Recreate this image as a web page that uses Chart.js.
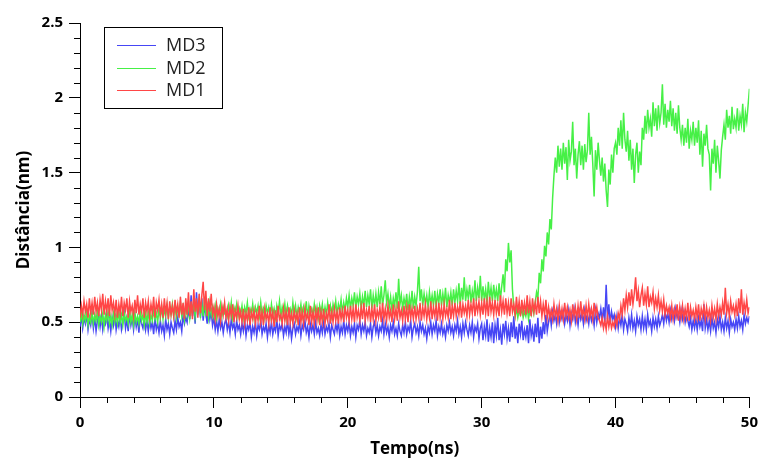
<!DOCTYPE html>
<html>
<head>
<meta charset="utf-8">
<script src="https://cdn.jsdelivr.net/npm/chart.js@4/dist/chart.umd.min.js"></script>
<style>
  html, body { margin: 0; padding: 0; background: #fff; }
  #wrap { width: 764px; height: 461px; position: relative; }
</style>
</head>
<body>
<div id="wrap"><canvas id="c"></canvas></div>
<script>
// Sampling interval of the trajectories (ns)
const passo = 0.1;

const rotulos = ['MD3', 'MD2', 'MD1'];
const cores = ['#4646f5', '#46f046', '#ff4646'];

const ticksX = [0, 10, 20, 30, 40, 50];
const ticksY = [0, 0.5, 1, 1.5, 2, 2.5];

// Distance (nm), one value per 0.1 ns, one row per ns
const md3 = [
0.47,0.54,0.46,0.53,0.49,0.55,0.45,0.52,0.48,0.56,
0.46,0.53,0.44,0.51,0.55,0.47,0.54,0.45,0.52,0.49,
0.55,0.46,0.52,0.44,0.53,0.48,0.56,0.45,0.51,0.47,
0.54,0.45,0.50,0.57,0.46,0.52,0.44,0.55,0.48,0.53,
0.45,0.54,0.47,0.52,0.43,0.55,0.49,0.46,0.53,0.45,
0.51,0.44,0.52,0.46,0.50,0.42,0.53,0.45,0.49,0.43,
0.51,0.44,0.48,0.41,0.52,0.45,0.49,0.42,0.50,0.46,
0.43,0.51,0.45,0.53,0.47,0.50,0.44,0.55,0.49,0.53,
0.50,0.60,0.52,0.68,0.54,0.63,0.49,0.70,0.55,0.64,
0.53,0.66,0.51,0.60,0.56,0.49,0.62,0.52,0.57,0.48,
0.53,0.45,0.51,0.44,0.52,0.46,0.50,0.43,0.49,0.52,
0.45,0.50,0.43,0.52,0.46,0.49,0.42,0.51,0.45,0.48,
0.42,0.49,0.44,0.51,0.41,0.48,0.45,0.50,0.40,0.47,
0.43,0.50,0.41,0.48,0.45,0.51,0.42,0.47,0.44,0.49,
0.40,0.48,0.43,0.50,0.42,0.47,0.44,0.52,0.41,0.48,
0.45,0.49,0.41,0.47,0.43,0.51,0.42,0.48,0.39,0.46,
0.49,0.42,0.47,0.44,0.50,0.41,0.48,0.45,0.51,0.43,
0.47,0.40,0.49,0.44,0.48,0.42,0.50,0.43,0.46,0.41,
0.48,0.43,0.51,0.42,0.47,0.44,0.49,0.40,0.48,0.45,
0.42,0.49,0.44,0.50,0.41,0.47,0.43,0.51,0.42,0.48,
0.44,0.50,0.41,0.47,0.43,0.49,0.40,0.48,0.45,0.51,
0.42,0.48,0.44,0.50,0.41,0.46,0.43,0.49,0.40,0.47,
0.50,0.43,0.48,0.41,0.47,0.44,0.51,0.42,0.49,0.43,
0.47,0.40,0.48,0.44,0.50,0.42,0.46,0.41,0.49,0.44,
0.41,0.48,0.43,0.50,0.42,0.47,0.44,0.51,0.40,0.46,
0.49,0.43,0.47,0.41,0.50,0.44,0.48,0.42,0.46,0.39,
0.47,0.43,0.50,0.42,0.48,0.44,0.51,0.41,0.47,0.43,
0.49,0.42,0.46,0.40,0.48,0.44,0.50,0.43,0.47,0.41,
0.48,0.44,0.51,0.42,0.47,0.40,0.49,0.43,0.50,0.45,
0.41,0.48,0.43,0.50,0.40,0.47,0.44,0.49,0.39,0.46,
0.49,0.38,0.47,0.41,0.52,0.37,0.46,0.40,0.50,0.36,
0.48,0.41,0.53,0.38,0.45,0.35,0.49,0.42,0.51,0.39,
0.46,0.37,0.50,0.40,0.54,0.39,0.47,0.36,0.49,0.42,
0.51,0.38,0.45,0.40,0.48,0.36,0.52,0.41,0.46,0.37,
0.49,0.40,0.53,0.36,0.47,0.39,0.50,0.42,0.55,0.44,
0.50,0.56,0.48,0.57,0.51,0.55,0.49,0.58,0.50,0.56,
0.52,0.57,0.49,0.55,0.51,0.58,0.48,0.56,0.52,0.59,
0.50,0.55,0.48,0.57,0.52,0.56,0.49,0.58,0.51,0.55,
0.49,0.57,0.51,0.55,0.48,0.58,0.50,0.56,0.53,0.59,
0.51,0.60,0.50,0.75,0.52,0.62,0.49,0.57,0.52,0.55,
0.47,0.54,0.46,0.53,0.48,0.55,0.45,0.52,0.49,0.44,
0.53,0.47,0.55,0.46,0.51,0.44,0.54,0.48,0.52,0.45,
0.54,0.46,0.52,0.45,0.55,0.48,0.51,0.44,0.53,0.47,
0.52,0.46,0.54,0.48,0.51,0.55,0.49,0.57,0.51,0.56,
0.50,0.58,0.52,0.57,0.51,0.59,0.53,0.56,0.50,0.58,
0.52,0.57,0.50,0.55,0.51,0.47,0.53,0.45,0.51,0.46,
0.52,0.45,0.53,0.47,0.51,0.44,0.62,0.46,0.52,0.45,
0.51,0.44,0.53,0.46,0.50,0.43,0.52,0.47,0.54,0.45,
0.50,0.44,0.53,0.46,0.51,0.43,0.52,0.47,0.50,0.45,
0.52,0.46,0.54,0.47,0.51,0.45,0.55,0.49,0.53,0.50,
0.54
];

const md2 = [
0.50,0.56,0.49,0.55,0.51,0.57,0.48,0.54,0.50,0.56,
0.49,0.55,0.51,0.57,0.48,0.54,0.50,0.56,0.47,0.55,
0.51,0.57,0.49,0.54,0.48,0.56,0.50,0.55,0.49,0.57,
0.50,0.55,0.48,0.56,0.51,0.54,0.49,0.57,0.50,0.55,
0.48,0.56,0.50,0.54,0.49,0.57,0.51,0.55,0.48,0.56,
0.50,0.57,0.49,0.55,0.51,0.58,0.52,0.56,0.50,0.59,
0.53,0.60,0.52,0.59,0.54,0.61,0.53,0.60,0.55,0.62,
0.54,0.61,0.53,0.60,0.55,0.63,0.54,0.60,0.52,0.62,
0.55,0.63,0.53,0.61,0.56,0.64,0.54,0.62,0.57,0.65,
0.55,0.62,0.54,0.66,0.56,0.61,0.53,0.63,0.55,0.60,
0.54,0.61,0.53,0.59,0.55,0.62,0.54,0.60,0.56,0.58,
0.54,0.61,0.55,0.63,0.53,0.60,0.56,0.62,0.54,0.59,
0.55,0.61,0.53,0.60,0.56,0.63,0.54,0.59,0.55,0.62,
0.53,0.60,0.56,0.61,0.54,0.63,0.55,0.59,0.53,0.61,
0.56,0.60,0.54,0.62,0.55,0.59,0.53,0.61,0.56,0.64,
0.54,0.60,0.55,0.62,0.53,0.61,0.56,0.59,0.54,0.63,
0.55,0.61,0.53,0.60,0.56,0.62,0.54,0.60,0.55,0.64,
0.53,0.61,0.56,0.59,0.54,0.62,0.55,0.60,0.53,0.61,
0.56,0.62,0.54,0.60,0.55,0.63,0.56,0.61,0.54,0.62,
0.57,0.64,0.55,0.62,0.58,0.65,0.56,0.63,0.58,0.66,
0.60,0.68,0.59,0.66,0.61,0.70,0.60,0.67,0.62,0.69,
0.59,0.67,0.61,0.71,0.60,0.68,0.62,0.72,0.59,0.68,
0.61,0.69,0.60,0.70,0.62,0.74,0.61,0.68,0.78,0.63,
0.69,0.60,0.67,0.58,0.66,0.61,0.70,0.59,0.79,0.62,
0.68,0.59,0.66,0.61,0.69,0.58,0.67,0.60,0.71,0.59,
0.67,0.61,0.70,0.87,0.64,0.72,0.61,0.69,0.62,0.68,
0.60,0.70,0.62,0.68,0.61,0.71,0.60,0.69,0.63,0.72,
0.61,0.69,0.62,0.73,0.60,0.68,0.63,0.70,0.61,0.72,
0.63,0.71,0.64,0.76,0.62,0.73,0.65,0.80,0.64,0.72,
0.66,0.75,0.63,0.71,0.65,0.78,0.64,0.73,0.66,0.81,
0.64,0.74,0.65,0.72,0.63,0.77,0.66,0.73,0.64,0.75,
0.66,0.72,0.64,0.76,0.65,0.74,0.82,0.70,0.92,0.84,
1.03,0.90,0.98,0.72,0.60,0.54,0.59,0.53,0.58,0.55,
0.59,0.53,0.57,0.54,0.60,0.52,0.58,0.55,0.61,0.56,
0.63,0.70,0.66,0.83,0.76,0.92,0.84,1.01,0.94,1.10,
1.02,1.19,1.12,1.33,1.48,1.60,1.50,1.68,1.54,1.66,
1.52,1.70,1.56,1.67,1.45,1.72,1.58,1.64,1.84,1.55,
1.66,1.46,1.62,1.71,1.55,1.68,1.52,1.69,1.57,1.65,
1.90,1.62,1.74,1.56,1.34,1.65,1.52,1.70,1.58,1.48,
1.60,1.44,1.56,1.38,1.27,1.52,1.42,1.62,1.50,1.66,
1.70,1.62,1.80,1.68,1.85,1.66,1.90,1.72,1.64,1.78,
1.58,1.72,1.52,1.66,1.43,1.62,1.70,1.50,1.64,1.55,
1.80,1.72,1.88,1.76,1.92,1.80,1.86,1.74,1.97,1.81,
1.93,1.78,1.95,1.83,1.90,2.09,1.82,1.96,1.80,1.92,
1.84,1.98,1.81,1.93,1.78,1.90,1.76,1.95,1.80,1.72,
1.82,1.68,1.80,1.70,1.86,1.66,1.78,1.72,1.84,1.68,
1.80,1.70,1.85,1.62,1.78,1.54,1.76,1.68,1.82,1.66,
1.62,1.38,1.66,1.56,1.72,1.50,1.68,1.58,1.46,1.65,
1.74,1.82,1.72,1.92,1.80,1.88,1.76,1.94,1.79,1.86,
1.80,1.93,1.78,1.88,1.82,1.96,1.77,1.90,1.84,1.95,
2.06
];

const md1 = [
0.53,0.61,0.55,0.64,0.57,0.62,0.53,0.66,0.56,0.63,
0.55,0.67,0.57,0.63,0.54,0.65,0.58,0.69,0.55,0.64,
0.57,0.66,0.54,0.68,0.58,0.63,0.55,0.65,0.53,0.62,
0.56,0.67,0.54,0.63,0.58,0.66,0.53,0.64,0.57,0.61,
0.54,0.65,0.56,0.68,0.55,0.62,0.57,0.66,0.53,0.63,
0.57,0.64,0.54,0.62,0.56,0.67,0.53,0.63,0.58,0.65,
0.55,0.62,0.53,0.66,0.56,0.63,0.52,0.64,0.55,0.61,
0.54,0.65,0.56,0.62,0.53,0.67,0.55,0.63,0.52,0.66,
0.55,0.70,0.54,0.64,0.52,0.72,0.57,0.66,0.53,0.69,
0.56,0.68,0.77,0.58,0.71,0.54,0.66,0.57,0.69,0.55,
0.60,0.52,0.62,0.54,0.59,0.51,0.61,0.55,0.63,0.53,
0.59,0.51,0.60,0.54,0.62,0.50,0.58,0.53,0.61,0.52,
0.57,0.50,0.59,0.49,0.56,0.51,0.60,0.48,0.57,0.52,
0.58,0.49,0.56,0.51,0.61,0.50,0.57,0.48,0.59,0.52,
0.56,0.49,0.60,0.51,0.57,0.47,0.58,0.50,0.61,0.52,
0.55,0.49,0.59,0.51,0.57,0.48,0.60,0.50,0.56,0.49,
0.58,0.51,0.56,0.48,0.60,0.50,0.57,0.49,0.59,0.52,
0.56,0.48,0.61,0.50,0.57,0.49,0.58,0.51,0.60,0.48,
0.57,0.50,0.59,0.49,0.56,0.51,0.62,0.49,0.57,0.50,
0.59,0.51,0.57,0.49,0.60,0.52,0.58,0.50,0.61,0.53,
0.58,0.51,0.61,0.52,0.59,0.50,0.62,0.53,0.58,0.51,
0.60,0.52,0.63,0.51,0.58,0.53,0.61,0.50,0.59,0.52,
0.62,0.51,0.58,0.53,0.60,0.50,0.63,0.52,0.59,0.51,
0.61,0.53,0.58,0.50,0.62,0.52,0.59,0.51,0.64,0.53,
0.58,0.51,0.61,0.52,0.60,0.50,0.62,0.53,0.59,0.52,
0.61,0.52,0.59,0.53,0.63,0.51,0.60,0.54,0.62,0.52,
0.59,0.53,0.64,0.52,0.60,0.54,0.61,0.51,0.63,0.53,
0.60,0.52,0.62,0.54,0.59,0.53,0.65,0.52,0.61,0.54,
0.63,0.54,0.60,0.55,0.64,0.53,0.62,0.56,0.61,0.54,
0.65,0.55,0.62,0.56,0.66,0.54,0.63,0.57,0.64,0.55,
0.63,0.55,0.66,0.56,0.64,0.54,0.67,0.57,0.63,0.55,
0.65,0.56,0.62,0.54,0.68,0.57,0.64,0.55,0.66,0.56,
0.63,0.54,0.66,0.57,0.62,0.55,0.67,0.56,0.64,0.54,
0.65,0.57,0.63,0.55,0.68,0.56,0.64,0.54,0.66,0.57,
0.63,0.55,0.67,0.56,0.64,0.54,0.62,0.55,0.65,0.53,
0.60,0.53,0.58,0.52,0.62,0.54,0.59,0.51,0.61,0.53,
0.59,0.52,0.63,0.54,0.60,0.53,0.58,0.51,0.62,0.54,
0.60,0.52,0.61,0.53,0.64,0.54,0.59,0.52,0.61,0.53,
0.62,0.54,0.59,0.52,0.63,0.55,0.60,0.53,0.51,0.48,
0.53,0.46,0.51,0.45,0.54,0.47,0.52,0.46,0.50,0.47,
0.53,0.48,0.56,0.52,0.61,0.55,0.66,0.58,0.68,0.60,
0.70,0.61,0.72,0.62,0.69,0.80,0.64,0.71,0.60,0.68,
0.73,0.61,0.69,0.62,0.74,0.60,0.67,0.63,0.70,0.59,
0.66,0.60,0.68,0.58,0.64,0.57,0.65,0.55,0.61,0.56,
0.60,0.53,0.61,0.52,0.59,0.54,0.62,0.51,0.60,0.53,
0.61,0.52,0.59,0.53,0.63,0.51,0.60,0.54,0.58,0.52,
0.60,0.53,0.62,0.51,0.59,0.54,0.61,0.52,0.60,0.53,
0.58,0.51,0.61,0.53,0.59,0.52,0.62,0.54,0.60,0.55,
0.63,0.55,0.73,0.56,0.62,0.54,0.64,0.57,0.61,0.55,
0.62,0.54,0.66,0.56,0.72,0.55,0.63,0.57,0.65,0.56,
0.60
];

const series = [md3, md2, md1];

function pontos(valores) {
  return valores.map((v, i) => ({ x: +(i * passo).toFixed(1), y: v }));
}

// Minor tick marks (every 2 ns on x, every 0.1 nm on y)
const minorTicks = {
  id: 'minorTicks',
  afterDraw(chart) {
    const { ctx, scales: { x, y } } = chart;
    ctx.save();
    ctx.strokeStyle = '#000';
    ctx.lineWidth = 1;
    ctx.beginPath();
    for (let k = 0; k <= 25; k++) {
      if (k % 5 === 0) continue;
      const px = Math.round(x.getPixelForValue(k * 2)) + 0.5;
      ctx.moveTo(px, y.bottom);
      ctx.lineTo(px, y.bottom + 6);
    }
    for (let k = 0; k <= 25; k++) {
      if (k % 5 === 0) continue;
      const py = Math.round(y.getPixelForValue(k / 10)) + 0.5;
      ctx.moveTo(x.left - 6, py);
      ctx.lineTo(x.left, py);
    }
    ctx.stroke();
    ctx.restore();
  }
};

// Boxed legend in the upper-left corner of the plot area
const boxLegend = {
  id: 'boxLegend',
  afterDraw(chart) {
    const { ctx } = chart;
    const bx = 104.5, by = 27.5, bw = 118, bh = 81;
    ctx.save();
    ctx.fillStyle = '#fff';
    ctx.fillRect(bx, by, bw, bh);
    ctx.strokeStyle = '#000';
    ctx.lineWidth = 1;
    ctx.strokeRect(bx, by, bw, bh);
    ctx.font = '18px "Open Sans"';
    ctx.textBaseline = 'middle';
    ctx.textAlign = 'left';
    chart.data.datasets.forEach((ds, i) => {
      const yy = 45 + i * 22.5;
      ctx.strokeStyle = ds.borderColor;
      ctx.beginPath();
      ctx.moveTo(117, Math.round(yy) + 0.5);
      ctx.lineTo(156, Math.round(yy) + 0.5);
      ctx.stroke();
      ctx.fillStyle = '#222';
      ctx.fillText(ds.label, 166, yy + 1);
    });
    ctx.restore();
  }
};

const ordem = [2, 1, 0];

new Chart(document.getElementById('c'), {
  type: 'line',
  data: {
    datasets: series.map((s, i) => ({
      label: rotulos[i],
      data: pontos(s),
      borderColor: cores[i],
      backgroundColor: cores[i],
      borderWidth: 1.5,
      pointRadius: 0,
      tension: 0,
      fill: false,
      order: ordem[i]
    }))
  },
  options: {
    responsive: true,
    maintainAspectRatio: false,
    animation: false,
    layout: { padding: { top: 23, right: 12, left: 0, bottom: 0 } },
    plugins: { legend: { display: false }, tooltip: { enabled: false } },
    scales: {
      x: {
        type: 'linear',
        min: 0, max: 50,
        afterFit(scale) { scale.height = 64; },
        afterBuildTicks(scale) { scale.ticks = ticksX.map(v => ({ value: v })); },
        ticks: { color: '#000', padding: 6, maxRotation: 0,
                 callback: v => String(v),
                 font: { family: 'Open Sans', weight: 'bold', size: 15 } },
        grid: { drawOnChartArea: false, drawTicks: true, tickLength: 11, color: '#000', lineWidth: 1 },
        border: { display: true, color: '#000', width: 1 },
        title: { display: true, text: 'Tempo(ns)', color: '#000',
                 font: { family: 'Open Sans', weight: 'bold', size: 17 },
                 padding: { top: 0, bottom: 2 } }
      },
      y: {
        type: 'linear',
        min: 0, max: 2.5,
        afterFit(scale) { scale.width = 80; },
        afterBuildTicks(scale) { scale.ticks = ticksY.map(v => ({ value: v })); },
        ticks: { color: '#000', padding: 6,
                 callback: v => String(v),
                 font: { family: 'Open Sans', weight: 'bold', size: 15 } },
        grid: { drawOnChartArea: false, drawTicks: true, tickLength: 11, color: '#000', lineWidth: 1 },
        border: { display: true, color: '#000', width: 1 },
        title: { display: true, text: 'Distância(nm)', color: '#000',
                 font: { family: 'Open Sans', weight: 'bold', size: 17 },
                 padding: { top: 14, bottom: 0 } }
      }
    }
  },
  plugins: [minorTicks, boxLegend]
});
</script>
</body>
</html>
